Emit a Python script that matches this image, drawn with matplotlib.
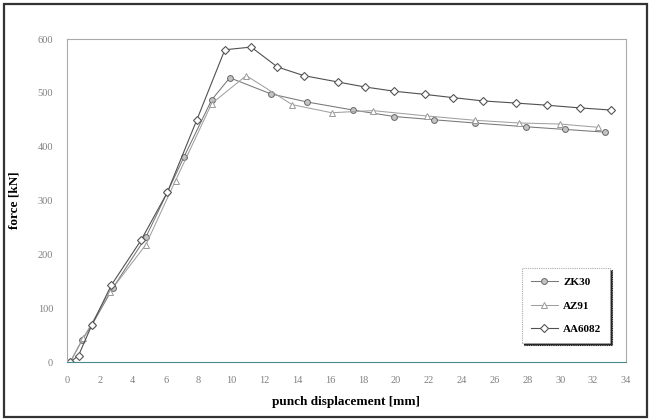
import matplotlib.pyplot as plt
from matplotlib.patches import Rectangle

# punch displacement [mm] / force [kN]
zk30_x = [0.2, 0.9, 1.5, 2.8, 4.8, 6.1, 7.1, 8.8, 9.9, 12.4, 14.6, 17.4, 19.9, 22.3, 24.8, 27.9, 30.3, 32.7]
zk30_y = [0, 40, 68, 138, 232, 315, 380, 487, 528, 498, 483, 468, 456, 450, 444, 437, 432, 427]

az91_x = [0.2, 1.0, 2.6, 4.8, 6.6, 8.8, 10.9, 13.7, 16.1, 18.6, 21.9, 24.8, 27.5, 30.0, 32.3]
az91_y = [0, 45, 130, 218, 337, 480, 532, 478, 463, 467, 457, 449, 444, 442, 436]

aa6082_x = [0.2, 0.7, 1.5, 2.7, 4.5, 6.1, 7.9, 9.6, 11.2, 12.8, 14.4, 16.5, 18.1, 19.9, 21.8,
            23.5, 25.3, 27.3, 29.2, 31.2, 33.1]
aa6082_y = [0, 12, 68, 143, 226, 315, 450, 580, 585, 548, 532, 520, 511, 503, 497,
            491, 485, 481, 477, 472, 468]

xticks = list(range(0, 35, 2))
yticks = list(range(0, 601, 100))

plt.rcParams['font.family'] = ['Liberation Serif', 'DejaVu Serif']

fig = plt.figure(figsize=(6.5, 4.19), dpi=100)
ax = fig.add_axes([67 / 650, 1 - 362 / 419, (626 - 67) / 650, (362 - 39) / 419])

ax.plot(zk30_x, zk30_y, color='#777777', lw=0.75, marker='o', ms=4.2,
        mfc='#c4c4c4', mec='#666666', mew=0.7, label='ZK30')
ax.plot(az91_x, az91_y, color='#a0a0a0', lw=0.75, marker='^', ms=4.5,
        mfc='white', mec='#999999', mew=0.7, label='AZ91')
ax.plot(aa6082_x, aa6082_y, color='#505050', lw=0.8, marker='D', ms=4,
        mfc='white', mec='#555555', mew=0.8, label='AA6082')

ax.set_xlim(0, 34)
ax.set_ylim(0, 600)
ax.set_xticks(xticks)
ax.set_yticks(yticks)
ax.tick_params(length=0, labelsize=7.5, labelcolor='#808080', pad=10)
for s in ax.spines.values():
    s.set_linestyle((0, (1, 1)))
    s.set_color('#aaaaaa')
    s.set_linewidth(0.8)
ax.spines['bottom'].set_color('#4a8a8a')

ax.set_xlabel('punch displacement [mm]', fontsize=9.5, fontweight='bold', labelpad=8)
ax.set_ylabel('force [kN]', fontsize=9.5, fontweight='bold', labelpad=12)

leg = ax.legend(loc='lower right', bbox_to_anchor=(0.972, 0.058), fancybox=False,
                fontsize=8, handlelength=2.4, handletextpad=0.5, labelspacing=1.25,
                borderpad=0.8, borderaxespad=0,
                shadow={'color': '#222222', 'alpha': 1, 'ox': 1.5, 'oy': -1.5})
leg.get_frame().set_edgecolor('#aaaaaa')
leg.get_frame().set_linestyle((0, (1, 1)))
leg.get_frame().set_linewidth(0.8)
for t in leg.get_texts():
    t.set_fontweight('bold')

fig.patches.append(Rectangle((0.006, 0.005), 0.99, 0.985, transform=fig.transFigure,
                             fill=False, edgecolor='#333333', lw=1.6))

fig.savefig('out.png', dpi=100)
